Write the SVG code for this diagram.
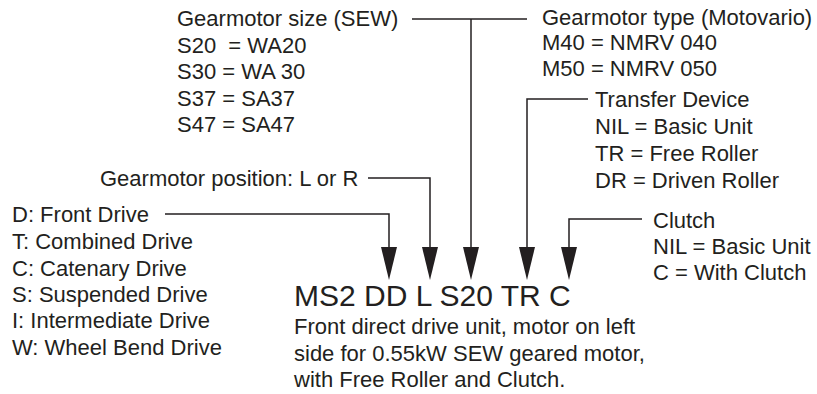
<svg xmlns="http://www.w3.org/2000/svg" width="817" height="394" viewBox="0 0 817 394">
<style>
text{font-family:"Liberation Sans",Arial,sans-serif;font-size:22px;fill:#231f20}
.big{font-size:30px}
.ln{fill:none;stroke:#231f20;stroke-width:1.5}
.ah{fill:#231f20}
</style>
<rect width="817" height="394" fill="#fff"/>
<g id="connectors">
<polyline class="ln" points="165,214 389,214 389,247"/>
<polyline class="ln" points="368,178 430,178 430,247"/>
<polyline class="ln" points="412,19 527,19"/>
<polyline class="ln" points="471,19 471,247"/>
<polyline class="ln" points="588,99 527,99 527,247"/>
<polyline class="ln" points="642,219 569,219 569,247"/>
<path class="ah" d="M381,247 L397,247 L389,280 Z"/>
<path class="ah" d="M422,247 L438,247 L430,280 Z"/>
<path class="ah" d="M463,247 L479,247 L471,280 Z"/>
<path class="ah" d="M519,247 L535,247 L527,280 Z"/>
<path class="ah" d="M561,247 L577,247 L569,280 Z"/>
</g>
<g id="size">
<text x="177" y="26">Gearmotor size (SEW)</text>
<text x="177" y="52.5" xml:space="preserve">S20  = WA20</text>
<text x="177" y="79">S30 = WA 30</text>
<text x="177" y="105.5">S37 = SA37</text>
<text x="177" y="132">S47 = SA47</text>
</g>
<g id="type">
<text x="542" y="25">Gearmotor type (Motovario)</text>
<text x="542" y="50">M40 = NMRV 040</text>
<text x="542" y="76">M50 = NMRV 050</text>
</g>
<g id="transfer">
<text x="595" y="107">Transfer Device</text>
<text x="595" y="134">NIL = Basic Unit</text>
<text x="595" y="161">TR = Free Roller</text>
<text x="595" y="188">DR = Driven Roller</text>
</g>
<g id="position">
<text x="100" y="186">Gearmotor position: L or R</text>
</g>
<g id="drive">
<text x="12" y="222">D: Front Drive</text>
<text x="12" y="249">T: Combined Drive</text>
<text x="12" y="276">C: Catenary Drive</text>
<text x="12" y="302">S: Suspended Drive</text>
<text x="12" y="328">I: Intermediate Drive</text>
<text x="12" y="355">W: Wheel Bend Drive</text>
</g>
<g id="clutch">
<text x="653" y="228">Clutch</text>
<text x="653" y="254">NIL = Basic Unit</text>
<text x="653" y="280">C = With Clutch</text>
</g>
<g id="code">
<text class="big" x="294" y="306">MS2 DD L S20 TR C</text>
<text x="294" y="334">Front direct drive unit, motor on left</text>
<text x="294" y="361">side for 0.55kW SEW geared motor,</text>
<text x="294" y="387">with Free Roller and Clutch.</text>
</g>
</svg>
